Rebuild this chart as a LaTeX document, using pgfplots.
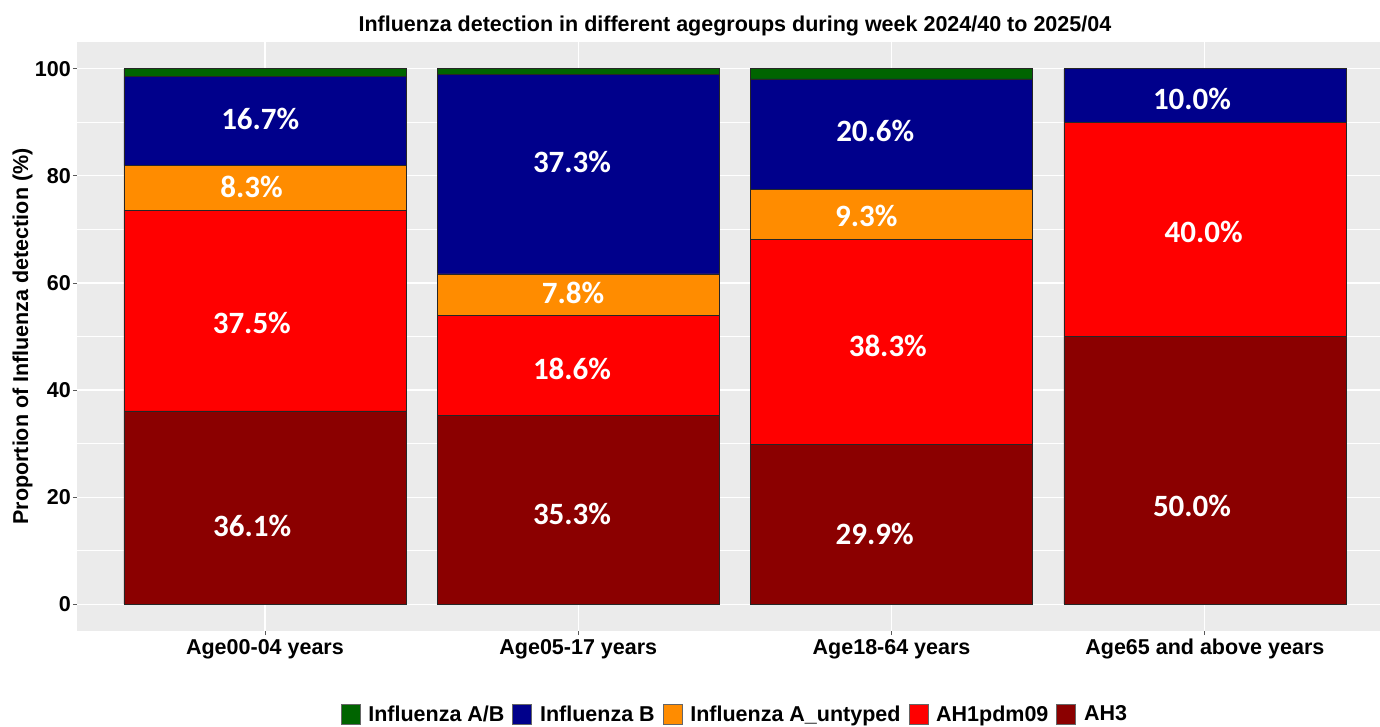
\documentclass[border=0pt]{standalone}
\usepackage{fontspec}
\setmainfont{Liberation Sans}
\newfontfamily\carlito{Carlito}
\usepackage{pgfplots}
\pgfplotsset{compat=1.18}
\definecolor{panel}{HTML}{EBEBEB}
\definecolor{cAB}{HTML}{006400}
\definecolor{cB}{HTML}{00008B}
\definecolor{cU}{HTML}{FF8C00}
\definecolor{cHone}{HTML}{FF0000}
\definecolor{cHthree}{HTML}{8B0000}
\newcommand\axfont{\bfseries\fontsize{21.5bp}{25bp}\selectfont}
\newcommand\labfont{\carlito\bfseries\fontsize{31bp}{31bp}\selectfont}
\pgfplotsset{
  sq/.style={legend image code/.code={\draw[##1, draw=black!60] (0bp,-10bp) rectangle (19bp,10bp);}},
}
\tikzset{lab/.style={font=\labfont, text=white, anchor=base, inner sep=0pt}}
\begin{document}
\begin{tikzpicture}
\begin{axis}[
  scale only axis, width=1303bp, height=589bp,
  ybar stacked, bar width=0.9,
  xmin=0.4, xmax=4.559, ymin=-5, ymax=105,
  xtick={1,2,3,4},
  xticklabels={Age00-04 years, Age05-17 years, Age18-64 years, Age65 and above years},
  ytick={0,20,40,60,80,100},
  minor ytick={10,30,50,70,90},
  xmajorgrids, ymajorgrids, yminorgrids,
  major grid style={white, line width=1.1bp},
  minor grid style={white, line width=0.55bp},
  axis background/.style={fill=panel},
  axis line style={draw=none},
  tick align=outside, tick pos=left,
  major tick length=4bp, minor tick length=0pt,
  major tick style={black!65, line width=0.8bp},
  /pgf/number format/assume math mode=true,
  ticklabel style={font=\axfont},
  yticklabel style={inner sep=0pt, xshift=-2bp},
  xticklabel style={inner sep=0pt, yshift=-4bp},
  ylabel={Proportion of Influenza detection (\%)},
  every axis y label/.style={at={(axis description cs:-0.0418,0.5)}, rotate=90, anchor=center, font=\axfont},
  title={Influenza detection in different agegroups during week 2024/40 to 2025/04},
  every axis title/.style={at={(0.5049,1)}, anchor=base, yshift=10bp, font=\axfont},
  legend columns=5, reverse legend,
  legend style={at={(0.5049,-0.1409)}, anchor=center, draw=none, fill=none, font=\axfont,
    column sep=0bp,
    /tikz/every odd column/.append style={column sep=6bp},
    /tikz/every even column/.append style={column sep=6bp}},
]
\addplot[fill=cHthree, draw=black!85, line width=0.6bp, sq] coordinates {(1,36.1) (2,35.3) (3,29.9) (4,50.0)};
\addlegendentry{AH3}
\addplot[fill=cHone, draw=black!85, line width=0.6bp, sq] coordinates {(1,37.5) (2,18.6) (3,38.3) (4,40.0)};
\addlegendentry{AH1pdm09}
\addplot[fill=cU, draw=black!85, line width=0.6bp, sq] coordinates {(1,8.3) (2,7.8) (3,9.3) (4,0)};
\addlegendentry{Influenza A\_untyped}
\addplot[fill=cB, draw=black!85, line width=0.6bp, sq] coordinates {(1,16.7) (2,37.3) (3,20.6) (4,10.0)};
\addlegendentry{Influenza B}
\addplot[fill=cAB, draw=black!85, line width=0.6bp, sq] coordinates {(1,1.4) (2,1.0) (3,1.9) (4,0)};
\addlegendentry{Influenza A/B}

\coordinate (a1) at (axis cs:0.985,88.6);
\coordinate (a2) at (axis cs:0.957,75.9);
\coordinate (a3) at (axis cs:0.958,50.6);
\coordinate (a4) at (axis cs:0.959,12.7);
\coordinate (b1) at (axis cs:1.980,80.6);
\coordinate (b2) at (axis cs:1.983,56.2);
\coordinate (b3) at (axis cs:1.980,42.0);
\coordinate (b4) at (axis cs:1.980,14.9);
\coordinate (c1) at (axis cs:2.948,86.4);
\coordinate (c2) at (axis cs:2.919,70.6);
\coordinate (c3) at (axis cs:2.988,46.3);
\coordinate (c4) at (axis cs:2.946,11.2);
\coordinate (d1) at (axis cs:3.959,92.4);
\coordinate (d2) at (axis cs:3.996,67.5);
\coordinate (d3) at (axis cs:3.959,16.3);
\end{axis}
\node[lab] at (a1) {16.7\%};
\node[lab] at (a2) {8.3\%};
\node[lab] at (a3) {37.5\%};
\node[lab] at (a4) {36.1\%};
\node[lab] at (b1) {37.3\%};
\node[lab] at (b2) {7.8\%};
\node[lab] at (b3) {18.6\%};
\node[lab] at (b4) {35.3\%};
\node[lab] at (c1) {20.6\%};
\node[lab] at (c2) {9.3\%};
\node[lab] at (c3) {38.3\%};
\node[lab] at (c4) {29.9\%};
\node[lab] at (d1) {10.0\%};
\node[lab] at (d2) {40.0\%};
\node[lab] at (d3) {50.0\%};
\pgfresetboundingbox
\path[use as bounding box] (-77bp,-96bp) rectangle (1303bp,631bp);
\end{tikzpicture}
\end{document}
